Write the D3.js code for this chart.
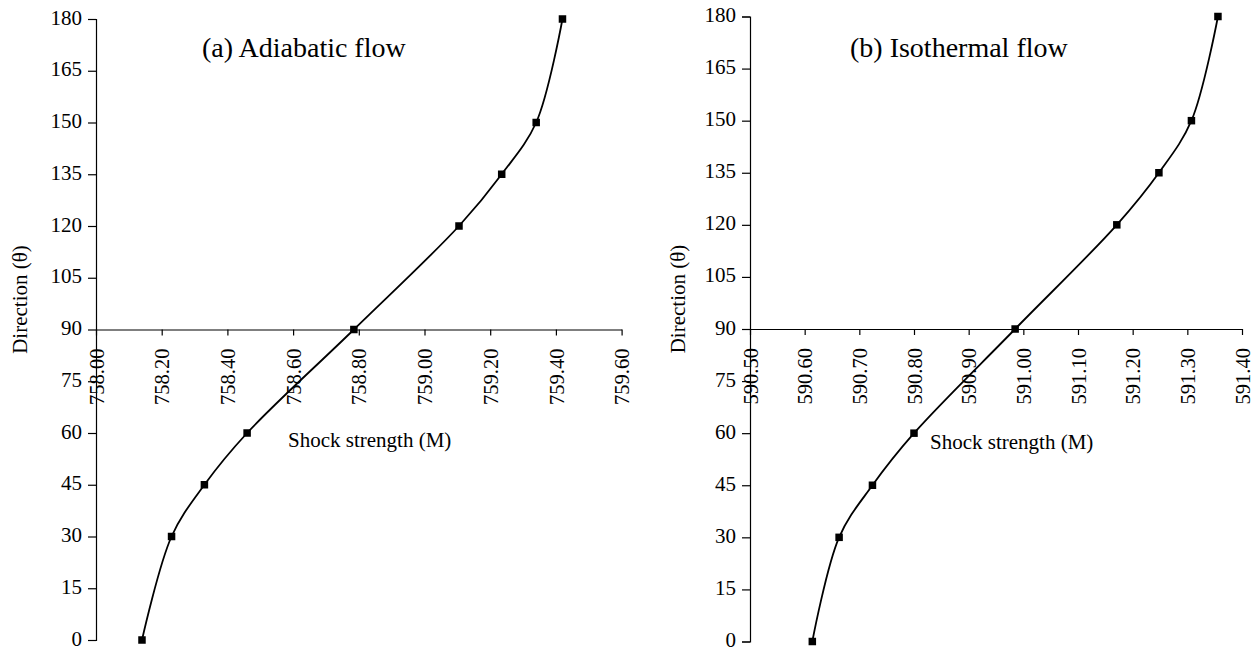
<!DOCTYPE html>
<html>
<head>
<meta charset="utf-8">
<script src="https://cdn.jsdelivr.net/npm/d3@7/dist/d3.min.js"></script>
<style>
  html, body { margin: 0; padding: 0; background: #fff; }
  svg { display: block; }
  text { font-family: "Liberation Serif", "Times New Roman", serif; fill: #000; }
</style>
</head>
<body>
<svg id="chart" width="1253" height="651"></svg>
<script>
// Direction angles (degrees) at which the shock strength was computed
const directions = [0, 30, 45, 60, 90, 120, 135, 150, 180];
// Shock strength (M) for each direction
const adiabaticStrength  = [758.14, 758.23, 758.33, 758.46, 758.785, 759.105, 759.235, 759.34, 759.42];
const isothermalStrength = [590.614, 590.663, 590.724, 590.80, 590.985, 591.171, 591.248, 591.3075, 591.356];
// Axis ticks
const directionTicks  = [0, 15, 30, 45, 60, 75, 90, 105, 120, 135, 150, 165, 180];
const adiabaticTicks  = [758.0, 758.2, 758.4, 758.6, 758.8, 759.0, 759.2, 759.4, 759.6];
const isothermalTicks = [590.5, 590.6, 590.7, 590.8, 590.9, 591.0, 591.1, 591.2, 591.3, 591.4];
const panelTitles = ["(a) Adiabatic flow", "(b) Isothermal flow"];

const svg = d3.select("#chart");
const fmt = d3.format(".2f");

const panels = [
  { title: panelTitles[0], values: adiabaticStrength, ticks: adiabaticTicks,
    xDomain: [758.0, 759.6], xRange: [96, 621.6], yRange: [640, 19],
    titleX: 202, titleY: 57, yLabelX: 27, xLabelX: 288, xLabelY: 447 },
  { title: panelTitles[1], values: isothermalStrength, ticks: isothermalTicks,
    xDomain: [590.5, 591.4], xRange: [750, 1242], yRange: [641.5, 16.5],
    titleX: 850, titleY: 57, yLabelX: 685, xLabelX: 930, xLabelY: 449 }
];

panels.forEach(p => {
  const g = svg.append("g");
  const x = d3.scaleLinear().domain(p.xDomain).range(p.xRange);
  const y = d3.scaleLinear().domain([0, 180]).range(p.yRange);

  // Vertical axis (direction)
  const yAxis = g.append("g")
    .attr("transform", `translate(${p.xRange[0]},0)`)
    .call(d3.axisLeft(y).tickValues(directionTicks).tickSize(8).tickPadding(6).tickFormat(d3.format("d")));
  yAxis.select(".domain").attr("stroke", "#000").attr("stroke-width", 1.2);
  yAxis.selectAll(".tick line").attr("stroke", "#000").attr("stroke-width", 1.2);
  yAxis.selectAll(".tick text")
    .attr("font-size", 21).attr("font-family", "Liberation Serif, serif").attr("fill", "#000")
    .attr("dy", "0.24em");

  // Horizontal axis crossing at direction = 90
  const xAxis = g.append("g")
    .attr("transform", `translate(0,${y(90)})`)
    .call(d3.axisBottom(x).tickValues(p.ticks).tickSize(6).tickSizeOuter(0).tickFormat(fmt));
  xAxis.select(".domain").attr("stroke", "#000").attr("stroke-width", 1.2);
  xAxis.selectAll(".tick line").attr("stroke", "#000").attr("stroke-width", 1.2);
  xAxis.selectAll(".tick text")
    .attr("font-size", 20.5).attr("font-family", "Liberation Serif, serif").attr("fill", "#000")
    .attr("transform", "rotate(-90)")
    .attr("text-anchor", "end")
    .attr("x", -19).attr("y", 0).attr("dy", "0.35em");

  // Smoothed curve through the computed points
  const pts = directions.map((d, i) => [p.values[i], d]);
  const line = d3.line()
    .x(d => x(d[0])).y(d => y(d[1]))
    .curve(d3.curveCatmullRom.alpha(0.5));
  g.append("path").datum(pts)
    .attr("d", line)
    .attr("fill", "none").attr("stroke", "#000").attr("stroke-width", 1.8);

  // Square markers
  const s = 7.5;
  g.selectAll("rect.marker").data(pts).enter().append("rect")
    .attr("class", "marker")
    .attr("x", d => x(d[0]) - s / 2).attr("y", d => y(d[1]) - s / 2)
    .attr("width", s).attr("height", s).attr("fill", "#000");

  // Panel title
  g.append("text").attr("x", p.titleX).attr("y", p.titleY)
    .attr("font-size", 28).text(p.title);

  // Axis titles
  g.append("text").attr("x", p.xLabelX).attr("y", p.xLabelY)
    .attr("font-size", 21).text("Shock strength (M)");
  g.append("text")
    .attr("transform", `translate(${p.yLabelX},${(p.yRange[0] + p.yRange[1]) / 2 - 30}) rotate(-90)`)
    .attr("text-anchor", "middle")
    .attr("font-size", 21).text("Direction (θ)");
});
</script>
</body>
</html>
